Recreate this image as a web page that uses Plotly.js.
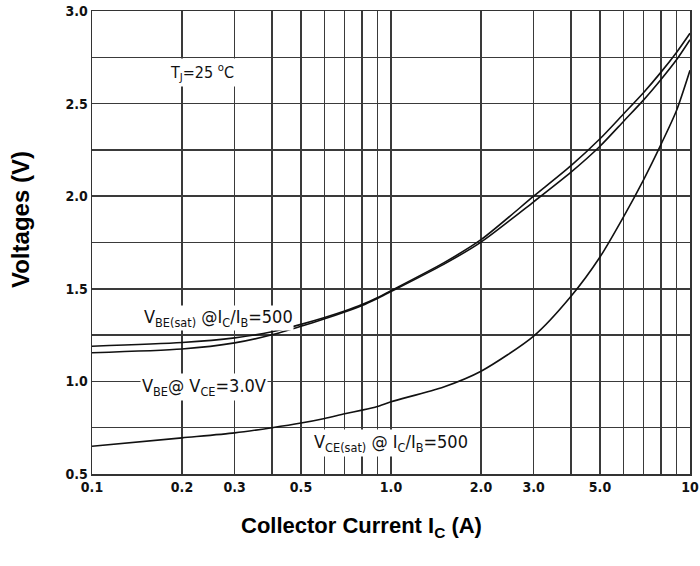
<!DOCTYPE html>
<html>
<head>
<meta charset="utf-8">
<script src="https://cdn.plot.ly/plotly-3.0.1.min.js"></script>
<style>
  html, body { margin: 0; padding: 0; background: #ffffff; }
  #chart { width: 700px; height: 566px; }
</style>
</head>
<body>
<div id="chart"></div>
<script>
// Collector current (A)
const currentA = [0.1, 0.2, 0.3, 0.4, 0.5, 0.6, 0.7, 0.8, 0.9, 1.0, 1.5, 2, 3, 4, 5, 6, 7, 8, 9, 10];
// V_BE(sat) @ Ic/Ib = 500
const vbeSat = [1.19, 1.21, 1.235, 1.268, 1.308, 1.345, 1.38, 1.415, 1.452, 1.49, 1.64, 1.765, 2.0, 2.165, 2.31, 2.445, 2.56, 2.67, 2.775, 2.88];
// V_BE @ V_CE = 3.0 V
const vbeOn = [1.155, 1.175, 1.208, 1.252, 1.298, 1.338, 1.375, 1.41, 1.448, 1.485, 1.632, 1.752, 1.97, 2.13, 2.27, 2.405, 2.52, 2.63, 2.735, 2.845];
// V_CE(sat) @ Ic/Ib = 500
const vceSat = [0.65, 0.695, 0.722, 0.75, 0.775, 0.80, 0.825, 0.845, 0.865, 0.89, 0.97, 1.055, 1.245, 1.46, 1.672, 1.89, 2.09, 2.28, 2.46, 2.68];

// Axis ticks
const xTickVals = [0.1, 0.2, 0.3, 0.4, 0.5, 0.6, 0.7, 0.8, 0.9, 1, 2, 3, 4, 5, 6, 7, 8, 9, 10];
const xTickText = ['0.1', '0.2', '0.3', '', '0.5', '', '', '', '', '1.0', '2.0', '3.0', '', '5.0', '', '', '', '', '10'];
const yTickVals = [0.5, 0.75, 1.0, 1.25, 1.5, 1.75, 2.0, 2.25, 2.5, 2.75, 3.0];
const yTickText = ['0.5', '', '1.0', '', '1.5', '', '2.0', '', '2.5', '', '3.0'];

const lineStyle = { color: '#111', width: 1.6, shape: 'spline', smoothing: 0.7 };
const traces = [
  { x: currentA, y: vbeSat, mode: 'lines', line: lineStyle, name: 'VBE(sat)' },
  { x: currentA, y: vbeOn, mode: 'lines', line: lineStyle, name: 'VBE' },
  { x: currentA, y: vceSat, mode: 'lines', line: lineStyle, name: 'VCE(sat)' }
];

const narrow = '"Liberation Sans Narrow", "DejaVu Sans Condensed", Arial, sans-serif';
const annFont = { family: narrow, size: 18, color: '#111' };
const titleFont = { family: 'Liberation Sans, Arial, sans-serif', color: '#000', weight: 'bold' };

const layout = {
  width: 700, height: 566,
  margin: { l: 92, r: 10, t: 11, b: 92 },
  paper_bgcolor: '#ffffff', plot_bgcolor: '#ffffff',
  showlegend: false,
  xaxis: {
    type: 'log', range: [-1, 1],
    tickmode: 'array', tickvals: xTickVals, ticktext: xTickText,
    showgrid: true, gridcolor: '#3a3a3a', gridwidth: 1.5,
    showline: true, linecolor: '#333', linewidth: 1.5, mirror: true,
    ticks: '', zeroline: false,
    tickfont: { family: narrow, size: 14, color: '#111', weight: 'bold' }
  },
  yaxis: {
    range: [0.5, 3.0],
    tickmode: 'array', tickvals: yTickVals, ticktext: yTickText,
    showgrid: true, gridcolor: '#3a3a3a', gridwidth: 1.5,
    showline: true, linecolor: '#333', linewidth: 1.5, mirror: true,
    ticks: '', zeroline: false,
    tickfont: { family: narrow, size: 14, color: '#111', weight: 'bold' }
  },
  annotations: [
    { x: -0.1187, y: 0.5486, xref: 'paper', yref: 'paper', xanchor: 'center', yanchor: 'middle',
      showarrow: false, textangle: -90,
      text: 'Voltages (V)', font: Object.assign({ size: 24 }, titleFont) },
    { x: 0.4515, y: -0.1145, xref: 'paper', yref: 'paper', xanchor: 'center', yanchor: 'middle',
      showarrow: false,
      text: 'Collector Current I<sub>C</sub> (A)', font: Object.assign({ size: 22 }, titleFont) },
    { x: Math.log10(0.233), y: 2.67, xref: 'x', yref: 'y', showarrow: false,
      text: 'T<sub>J</sub>=25 <sup>o</sup>C', font: { family: narrow, size: 16, color: '#111' }, bgcolor: '#ffffff', borderpad: 2 },
    { x: Math.log10(0.264), y: 1.345, xref: 'x', yref: 'y', showarrow: false,
      text: 'V<sub>BE(sat)</sub> @I<sub>C</sub>/I<sub>B</sub>=500', font: annFont, bgcolor: '#ffffff', borderpad: 0 },
    { x: Math.log10(0.237), y: 0.97, xref: 'x', yref: 'y', showarrow: false,
      text: 'V<sub>BE</sub>@ V<sub>CE</sub>=3.0V', font: annFont, bgcolor: '#ffffff', borderpad: 1 },
    { x: Math.log10(1.0), y: 0.665, xref: 'x', yref: 'y', showarrow: false,
      text: 'V<sub>CE(sat)</sub> @ I<sub>C</sub>/I<sub>B</sub>=500', font: annFont, bgcolor: '#ffffff', borderpad: 1 }
  ]
};

Plotly.newPlot('chart', traces, layout, { displayModeBar: false, staticPlot: true });
</script>
</body>
</html>
